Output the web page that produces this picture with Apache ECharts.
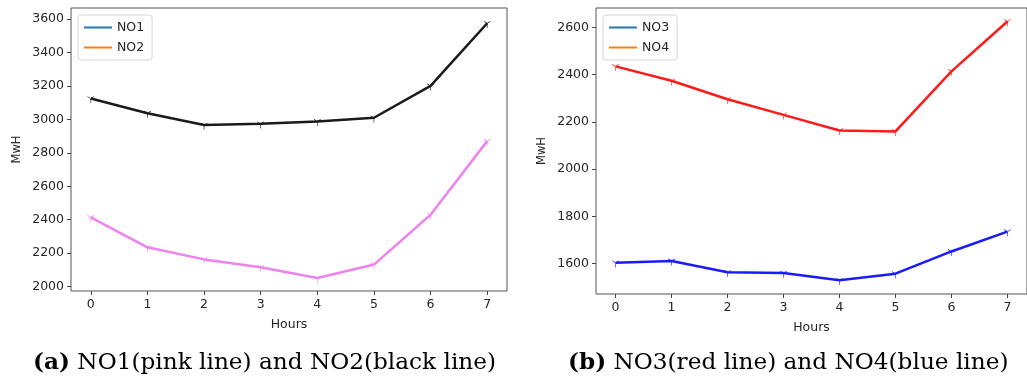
<!DOCTYPE html>
<html><head><meta charset="utf-8">
<script src="https://cdn.jsdelivr.net/npm/echarts@6/dist/echarts.min.js"></script>
<style>html,body{margin:0;padding:0;background:#fff}#c{width:1027px;height:387px}</style>
</head><body><div id="c"></div>
<script>
const hours = [0,1,2,3,4,5,6,7];
const no1 = [2414,2235,2163,2116,2052,2132,2430,2870];
const no2 = [3125,3037,2966,2974,2988,3010,3200,3575];
const no3 = [2435,2374,2296,2230,2164,2160,2414,2625];
const no4 = [1604,1612,1564,1561,1530,1558,1652,1736];
const yTicksA = [2000,2200,2400,2600,2800,3000,3200,3400,3600];
const yTicksB = [1600,1800,2000,2200,2400,2600];
const legendA = ['NO1','NO2'];
const legendB = ['NO3','NO4'];
const captionA = 'NO1(pink line) and NO2(black line)';
const captionB = 'NO3(red line) and NO4(blue line)';

const tri = 'path://M-0.8,0L0.8,0L0.8,10L-0.8,10Z M0.4,-0.693L-8.26,-5.693L-9.06,-4.307L-0.4,0.693Z M0.4,0.693L9.06,-4.307L8.26,-5.693L-0.4,-0.693Z';
const tc = '#262626';
const fnt = 'DejaVu Sans';
const serif = 'DejaVu Serif';
const capSize = 23.2;

function xAx(gi){
  return {gridIndex:gi,type:'value',min:-0.35,max:7.35,name:'Hours',nameLocation:'middle',nameGap:27,
    nameTextStyle:{fontFamily:fnt,fontSize:12.5,color:tc},
    axisLine:{show:false,onZero:false},splitLine:{show:false},
    axisTick:{show:true,length:4,inside:false,customValues:hours,lineStyle:{color:'#444'}},
    axisLabel:{customValues:hours,formatter:v=>String(v),fontFamily:fnt,fontSize:12.5,color:tc,margin:7}};
}
function yAx(gi,mn,mx,ticks){
  return {gridIndex:gi,type:'value',min:mn,max:mx,name:'MwH',nameLocation:'middle',nameGap:48,nameRotate:90,
    nameTextStyle:{fontFamily:fnt,fontSize:11.5,color:tc},
    axisLine:{show:false,onZero:false},splitLine:{show:false},
    axisTick:{show:true,length:4,inside:false,customValues:ticks,lineStyle:{color:'#444'}},
    axisLabel:{customValues:ticks,formatter:v=>String(v),fontFamily:fnt,fontSize:12.5,color:tc,margin:7}};
}
function line(name,gi,data,color){
  return {name:name,type:'line',xAxisIndex:gi,yAxisIndex:gi,data:hours.map((h,i)=>[h,data[i]]),
    lineStyle:{color:color,width:2.5},itemStyle:{color:color},symbol:tri,symbolSize:7,symbolOffset:[0,'16.7%'],
    showSymbol:true,animation:false,z:3};
}
function dummy(name,gi,color){
  return {name:name,type:'line',xAxisIndex:gi,yAxisIndex:gi,data:[],lineStyle:{color:color,width:2},itemStyle:{color:color},symbol:'none'};
}
function legend(x,names){
  return {left:x,top:15,orient:'vertical',data:names,icon:'rect',itemWidth:28,itemHeight:2,itemGap:7,
    backgroundColor:'#fff',borderColor:'#d6d6d6',borderWidth:1,borderRadius:3,padding:[6,8,6,6],
    textStyle:{fontFamily:fnt,fontSize:12.5,color:tc}};
}
function caption(x,tag,txt){
  return {type:'text',left:x,top:351,style:{text:'{b|'+tag+'} '+txt,
    rich:{b:{fontWeight:'bold',fontFamily:serif,fontSize:capSize,fill:'#000'}},
    fontFamily:serif,fontSize:capSize,fill:'#000'}};
}
const chart = echarts.init(document.getElementById('c'),null,{renderer:'canvas'});
chart.setOption({
  animation:false,
  grid:[
    {left:71,top:8,width:436,height:283,show:true,borderColor:'#555',borderWidth:1,backgroundColor:'transparent'},
    {left:596,top:8,width:440,height:286,show:true,borderColor:'#555',borderWidth:1,backgroundColor:'transparent'}
  ],
  xAxis:[xAx(0),xAx(1)],
  yAxis:[yAx(0,1974,3666,yTicksA),yAx(1,1472,2682,yTicksB)],
  legend:[legend(78,legendA),legend(603,legendB)],
  series:[
    dummy(legendA[0],0,'#1f77b4'),dummy(legendA[1],0,'#ff7f0e'),
    dummy(legendB[0],1,'#1f77b4'),dummy(legendB[1],1,'#ff7f0e'),
    line('NO1 values',0,no1,'#ee82ee'),
    line('NO2 values',0,no2,'#1a1a1a'),
    line('NO3 values',1,no3,'#ff1a1a'),
    line('NO4 values',1,no4,'#1a1aff')
  ],
  graphic:[
    caption(33,'(a)',captionA),
    caption(568,'(b)',captionB)
  ]
});
</script></body></html>
